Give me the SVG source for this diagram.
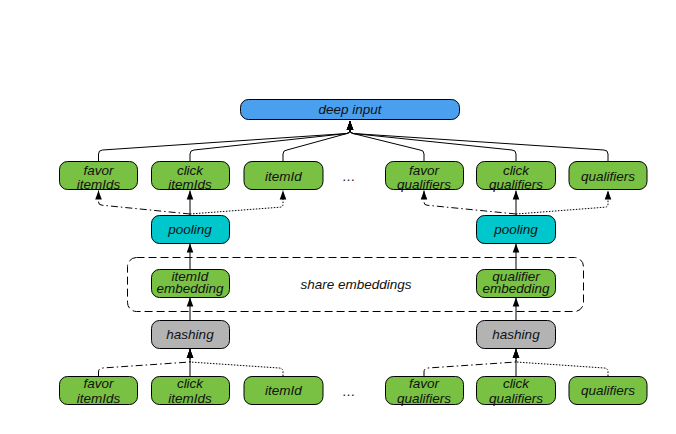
<svg xmlns="http://www.w3.org/2000/svg" width="676" height="434" viewBox="0 0 676 434">
  <defs>
    <marker id="arrow" viewBox="0 0 9 8" refX="9" refY="4" markerWidth="9" markerHeight="8" markerUnits="userSpaceOnUse" orient="auto">
      <path d="M0,0.7 L9,4 L0,7.3 Z" fill="#000"/>
    </marker>
    <style>
      .box { stroke: #000; stroke-width: 1; }
      .green { fill: #79c142; }
      .blue { fill: #4aa0ef; }
      .cyan { fill: #00c7cc; }
      .gray { fill: #b3b3b3; }
      .lbl { font-family: "Liberation Sans", Arial, sans-serif; font-style: italic; font-size: 13.5px; fill: #111; text-anchor: middle; }
      .edge { fill: none; stroke: #000; stroke-width: 1; marker-end: url(#arrow); }
      .dashdot { stroke-dasharray: 7 3 1.5 3; }
      .dotted { stroke-dasharray: 1.5 1.5; }
      .group { fill: none; stroke: #000; stroke-width: 1; stroke-dasharray: 8 4; }
    </style>
  </defs>

  <rect width="676" height="434" fill="#fff"/>

  <!-- shared embedding region -->
  <g id="share-embeddings">
    <rect class="group" x="127.5" y="257.5" width="456" height="54" rx="9"/>
    <text class="lbl" x="356" y="289">share embeddings</text>
  </g>

  <!-- connectors -->
  <g id="connectors">
    <!-- top row into deep input -->
    <path class="edge" d="M98.5,161 L98.5,154 Q98.5,150.2 102.5,150 L347,133.5 Q350,133 350,130 L350,121"/>
    <path class="edge" d="M190,161 L190,154 Q190,150.2 194,150 L347,133.5 Q350,133 350,130 L350,121"/>
    <path class="edge" d="M283,161 L283,154 Q283,150.2 287,150 L347,133.5 Q350,133 350,130 L350,121"/>
    <path class="edge" d="M424,161 L424,154 Q424,150.2 420,150 L353,133.5 Q350,133 350,130 L350,121"/>
    <path class="edge" d="M516,161 L516,154 Q516,150.2 512,150 L353,133.5 Q350,133 350,130 L350,121"/>
    <path class="edge" d="M608,161 L608,154 Q608,150.2 604,150 L353,133.5 Q350,133 350,130 L350,121"/>

    <!-- left pooling fan-out -->
    <path class="edge" d="M190,215 L190,190.5"/>
    <path class="edge dashdot" d="M190,214 L102,205.2 Q98.5,205 98.5,202 L98.5,190.5"/>
    <path class="edge dotted" d="M190,214 L280,207.2 Q283,207 283,204 L283,190.5"/>
    <!-- right pooling fan-out -->
    <path class="edge" d="M516,215 L516,190.5"/>
    <path class="edge dashdot" d="M516,214 L427,205.2 Q424,205 424,202 L424,190.5"/>
    <path class="edge dotted" d="M516,214 L605,207.2 Q608,207 608,204 L608,190.5"/>

    <!-- embedding to pooling -->
    <path class="edge" d="M190,269 L190,243.5"/>
    <path class="edge" d="M516,269 L516,243.5"/>
    <!-- hashing to embedding -->
    <path class="edge" d="M190,320 L190,297.5"/>
    <path class="edge" d="M516,320 L516,297.5"/>

    <!-- left inputs into hashing -->
    <path class="edge" d="M190,376 L190,349"/>
    <path class="edge dashdot" d="M98.5,376 L98.5,372 Q98.5,368.2 102.5,368 L190,362 L190,349"/>
    <path class="edge dotted" d="M283,376 L283,372 Q283,368.2 279,368 L190,362 L190,349"/>
    <!-- right inputs into hashing -->
    <path class="edge" d="M516,376 L516,349"/>
    <path class="edge dashdot" d="M424,376 L424,372 Q424,368.2 428,368 L516,362 L516,349"/>
    <path class="edge dotted" d="M608,376 L608,372 Q608,368.2 604,368 L516,362 L516,349"/>
  </g>

  <!-- output -->
  <g id="deep-input">
    <rect class="box blue" x="240.5" y="99.5" width="219" height="20" rx="8"/>
    <text class="lbl" x="350" y="114">deep input</text>
  </g>

  <!-- pooled features -->
  <g id="top-favor-itemIds">
    <rect class="box green" x="59.5" y="161.5" width="78" height="28" rx="8"/>
    <text class="lbl" x="98.5" y="174.5">favor</text>
    <text class="lbl" x="98.5" y="188.5">itemIds</text>
  </g>
  <g id="top-click-itemIds">
    <rect class="box green" x="151.5" y="161.5" width="78" height="28" rx="8"/>
    <text class="lbl" x="190" y="174.5">click</text>
    <text class="lbl" x="190" y="188.5">itemIds</text>
  </g>
  <g id="top-itemId">
    <rect class="box green" x="244" y="161.5" width="79" height="28" rx="8"/>
    <text class="lbl" x="283.5" y="180.5">itemId</text>
  </g>
  <g id="top-ellipsis">
    <text class="lbl" x="349" y="181">…</text>
  </g>
  <g id="top-favor-qualifiers">
    <rect class="box green" x="385.5" y="161.5" width="78" height="28" rx="8"/>
    <text class="lbl" x="424" y="174.5">favor</text>
    <text class="lbl" x="424" y="188.5">qualifiers</text>
  </g>
  <g id="top-click-qualifiers">
    <rect class="box green" x="476.5" y="161.5" width="79" height="28" rx="8"/>
    <text class="lbl" x="516" y="174.5">click</text>
    <text class="lbl" x="516" y="188.5">qualifiers</text>
  </g>
  <g id="top-qualifiers">
    <rect class="box green" x="569" y="161.5" width="78" height="28" rx="8"/>
    <text class="lbl" x="608" y="180.5">qualifiers</text>
  </g>

  <!-- pooling -->
  <g id="pooling-left">
    <rect class="box cyan" x="151.5" y="215.5" width="78" height="28" rx="8"/>
    <text class="lbl" x="190" y="234">pooling</text>
  </g>
  <g id="pooling-right">
    <rect class="box cyan" x="476.5" y="215.5" width="79" height="28" rx="8"/>
    <text class="lbl" x="516" y="234">pooling</text>
  </g>

  <!-- embeddings -->
  <g id="itemId-embedding">
    <rect class="box green" x="151.5" y="269.5" width="78" height="28" rx="8"/>
    <text class="lbl" x="190" y="280.5">itemId</text>
    <text class="lbl" x="190" y="293">embedding</text>
  </g>
  <g id="qualifier-embedding">
    <rect class="box green" x="476.5" y="269.5" width="79" height="28" rx="8"/>
    <text class="lbl" x="516" y="280.5">qualifier</text>
    <text class="lbl" x="516" y="293">embedding</text>
  </g>

  <!-- hashing -->
  <g id="hashing-left">
    <rect class="box gray" x="151.5" y="320.5" width="78" height="28" rx="8"/>
    <text class="lbl" x="190" y="339">hashing</text>
  </g>
  <g id="hashing-right">
    <rect class="box gray" x="476.5" y="320.5" width="79" height="28" rx="8"/>
    <text class="lbl" x="516" y="339">hashing</text>
  </g>

  <!-- raw input features -->
  <g id="bottom-favor-itemIds">
    <rect class="box green" x="59.5" y="376.5" width="78" height="28" rx="8"/>
    <text class="lbl" x="98.5" y="388">favor</text>
    <text class="lbl" x="98.5" y="402.5">itemIds</text>
  </g>
  <g id="bottom-click-itemIds">
    <rect class="box green" x="151.5" y="376.5" width="78" height="28" rx="8"/>
    <text class="lbl" x="190" y="388">click</text>
    <text class="lbl" x="190" y="402.5">itemIds</text>
  </g>
  <g id="bottom-itemId">
    <rect class="box green" x="244" y="376.5" width="79" height="28" rx="8"/>
    <text class="lbl" x="283.5" y="395">itemId</text>
  </g>
  <g id="bottom-ellipsis">
    <text class="lbl" x="349" y="396">…</text>
  </g>
  <g id="bottom-favor-qualifiers">
    <rect class="box green" x="385.5" y="376.5" width="78" height="28" rx="8"/>
    <text class="lbl" x="424" y="388">favor</text>
    <text class="lbl" x="424" y="402.5">qualifiers</text>
  </g>
  <g id="bottom-click-qualifiers">
    <rect class="box green" x="476.5" y="376.5" width="79" height="28" rx="8"/>
    <text class="lbl" x="516" y="388">click</text>
    <text class="lbl" x="516" y="402.5">qualifiers</text>
  </g>
  <g id="bottom-qualifiers">
    <rect class="box green" x="569" y="376.5" width="78" height="28" rx="8"/>
    <text class="lbl" x="608" y="395">qualifiers</text>
  </g>
</svg>
